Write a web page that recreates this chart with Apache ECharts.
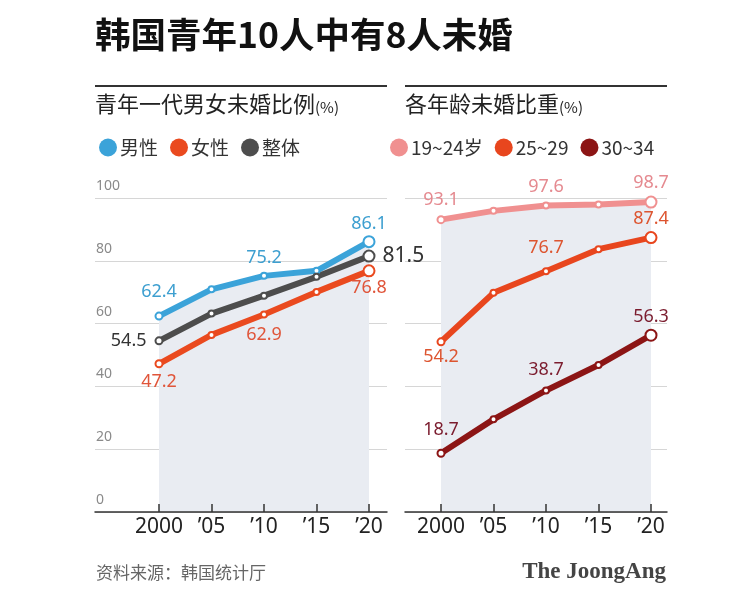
<!DOCTYPE html>
<html>
<head>
<meta charset="utf-8">
<script src="https://cdn.jsdelivr.net/npm/echarts@6/dist/echarts.min.js"></script>
<style>
html,body{margin:0;padding:0;background:#fff;}
#c{width:755px;height:589px;}
</style>
</head>
<body>
<div id="c"></div>
<script>
// ---- data ----
const years = [2000, 2005, 2010, 2015, 2020];
const yearLabels = ['2000', '\u201905', '\u201910', '\u201915', '\u201920'];
const male = [62.4, 70.9, 75.2, 76.8, 86.1];
const female = [47.2, 56.4, 62.9, 70.1, 76.8];
const overall = [54.5, 63.2, 68.9, 74.9, 81.5];
const age1924 = [93.1, 95.9, 97.6, 97.9, 98.7];
const age2529 = [54.2, 69.8, 76.7, 83.7, 87.4];
const age3034 = [18.7, 29.5, 38.7, 46.8, 56.3];
const leftNames = ['男性', '女性', '整体'];
const rightNames = ['19~24岁', '25~29', '30~34'];

// ---- styles ----
const FONT = '"Noto Sans CJK SC", "Noto Sans", sans-serif';
const NUMFONT = '"Noto Sans", "Open Sans", sans-serif';
const colors = {
  '男性': '#3ba3d9', '女性': '#ea4a1f', '整体': '#4d4d4d',
  '19~24岁': '#f09090', '25~29': '#e8461e', '30~34': '#8c1515'
};
const labelColors = {
  '男性': '#3d9fd0', '女性': '#e0553a', '整体': '#333333',
  '19~24岁': '#e58a90', '25~29': '#dd5530', '30~34': '#7b1c2e'
};
// label placement per point index: [position, distance, fontSize]
const labelSpec = {
  '男性': {0: ['top', 11], 2: ['top', 5], 4: ['top', 2]},
  '女性': {0: ['bottom', 5], 2: ['bottom', 7], 4: ['bottom', 2]},
  '整体': {0: ['left', 8], 4: ['right', 7, 21]},
  '19~24岁': {0: ['top', 6], 2: ['top', 6], 4: ['top', 4]},
  '25~29': {0: ['bottom', 2], 2: ['top', 10], 4: ['top', 3]},
  '30~34': {0: ['top', 10], 2: ['top', 8], 4: ['top', 3]}
};

function makeSeries(name, vals, axisIdx, area) {
  const spec = labelSpec[name];
  const data = vals.map((v, i) => {
    const item = {value: [years[i], v]};
    if (spec[i]) {
      item.label = {
        show: true,
        position: spec[i][0],
        distance: spec[i][1],
        fontSize: spec[i][2] || 18,
        color: labelColors[name],
        fontFamily: NUMFONT,
        formatter: p => p.value[1].toFixed(1)
      };
    }
    return item;
  });
  const s = {
    name: name,
    type: 'line',
    xAxisIndex: axisIdx,
    yAxisIndex: axisIdx,
    data: data,
    symbol: 'emptyCircle',
    symbolSize: (val, p) => p.dataIndex === 4 ? 11 : (p.dataIndex === 0 ? 7 : 6),
    showAllSymbol: true,
    lineStyle: {color: colors[name], width: 6},
    itemStyle: {color: colors[name], borderWidth: 2},
    label: {show: false},
    emphasis: {disabled: true},
    animation: false
  };
  if (area) {
    s.areaStyle = {color: '#e9ecf2', opacity: 1};
  }
  return s;
}

function xAxisCfg(idx, min, max) {
  return {
    type: 'value', gridIndex: idx, min: min, max: max, z: 3,
    axisLine: {show: true, lineStyle: {color: '#333', width: 1.5}},
    axisTick: {show: true, inside: true, length: 8, customValues: years, lineStyle: {color: '#333', width: 1.5}},
    axisLabel: {
      customValues: years, margin: 5, fontSize: 21, color: '#222', fontFamily: NUMFONT,
      formatter: v => yearLabels[years.indexOf(v)]
    },
    splitLine: {show: false}
  };
}
function yAxisCfg(idx, showLabels) {
  return {
    type: 'value', gridIndex: idx, min: 0, max: 100, interval: 20,
    axisLine: {show: false}, axisTick: {show: false},
    axisLabel: {
      show: showLabels, inside: true, margin: 1, verticalAlign: 'bottom',
      padding: [0, 0, 5, 0], fontSize: 14, color: '#8a8a8a', fontFamily: NUMFONT
    },
    splitLine: {show: true, lineStyle: {color: '#d6d6d6', width: 1}}
  };
}

const chart = echarts.init(document.getElementById('c'), null, {renderer: 'canvas'});
chart.setOption({
  backgroundColor: '#ffffff',
  animation: false,
  textStyle: {fontFamily: FONT},
  grid: [
    {left: 95, right: 368, top: 198, bottom: 77},
    {left: 405, right: 88, top: 198, bottom: 77}
  ],
  xAxis: [xAxisCfg(0, 2000 - 64 / 10.5, 2020 + 18 / 10.5), xAxisCfg(1, 2000 - 36 / 10.5, 2020 + 16 / 10.5)],
  yAxis: [yAxisCfg(0, true), yAxisCfg(1, false)],
  legend: [
    {
      left: 94, top: 133, icon: 'circle', itemWidth: 18, itemHeight: 18, itemGap: 12,
      textStyle: {fontSize: 19, color: '#333', fontFamily: FONT, padding: [0, 0, 0, -2]},
      selectedMode: false,
      data: leftNames.map(n => ({name: n, itemStyle: {color: colors[n], borderWidth: 0}}))
    },
    {
      left: 385, top: 133, icon: 'circle', itemWidth: 18, itemHeight: 18, itemGap: 12,
      textStyle: {fontSize: 19, color: '#333', fontFamily: FONT, padding: [0, 0, 0, -2]},
      selectedMode: false,
      data: rightNames.map(n => ({name: n, itemStyle: {color: colors[n], borderWidth: 0}}))
    }
  ],
  series: [
    makeSeries('男性', male, 0, true),
    makeSeries('女性', female, 0, false),
    makeSeries('整体', overall, 0, false),
    makeSeries('19~24岁', age1924, 1, true),
    makeSeries('25~29', age2529, 1, false),
    makeSeries('30~34', age3034, 1, false)
  ],
  graphic: [
    {type: 'text', left: 95, top: 17, style: {text: '韩国青年10人中有8人未婚', fontSize: 35.5, fontWeight: 'bold', fill: '#111', fontFamily: FONT}},
    {type: 'line', shape: {x1: 95, y1: 86, x2: 387, y2: 86}, style: {stroke: '#333', lineWidth: 2}},
    {type: 'line', shape: {x1: 405, y1: 86, x2: 667, y2: 86}, style: {stroke: '#333', lineWidth: 2}},
    {type: 'text', left: 95, top: 93, style: {text: '青年一代男女未婚比例{p|(%)}', fontSize: 22, fill: '#222', fontFamily: FONT,
      rich: {p: {fontSize: 15, fill: '#222', fontFamily: FONT, verticalAlign: 'bottom'}}}},
    {type: 'text', left: 405, top: 93, style: {text: '各年龄未婚比重{p|(%)}', fontSize: 22, fill: '#222', fontFamily: FONT,
      rich: {p: {fontSize: 15, fill: '#222', fontFamily: FONT, verticalAlign: 'bottom'}}}},
    {type: 'text', left: 96, top: 564, style: {text: '资料来源：韩国统计厅', fontSize: 17, fill: '#666', fontFamily: FONT}},
    {type: 'text', right: 89, top: 561, style: {text: 'The JoongAng', fontSize: 23, fontWeight: 'bold', fill: '#444', fontFamily: '"Liberation Serif", "DejaVu Serif", serif'}}
  ]
});
</script>
</body>
</html>
